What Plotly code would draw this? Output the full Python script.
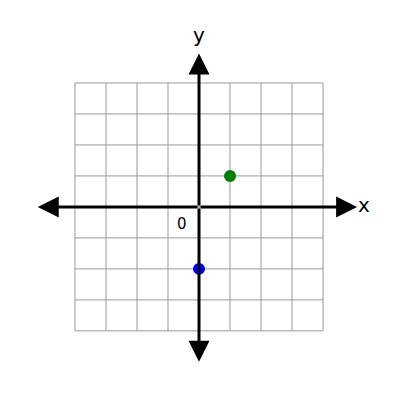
import plotly.graph_objects as go

grid_ticks = [-4, -3, -2, -1, 0, 1, 2, 3, 4]
points_x = [1, 0]
points_y = [1, -2]
point_colors = ["green", "blue"]
axis_ends = {"x": (-5.2, 5.1), "y": (-5.0, 4.95)}

fig = go.Figure()

# grid lines
for t in grid_ticks:
    fig.add_trace(go.Scatter(x=[t, t], y=[-4, 4], mode="lines",
                             line=dict(color="#999", width=1), hoverinfo="skip"))
    fig.add_trace(go.Scatter(x=[-4, 4], y=[t, t], mode="lines",
                             line=dict(color="#999", width=1), hoverinfo="skip"))

# axes with arrowheads at both ends
xa, xb = axis_ends["x"]
ya, yb = axis_ends["y"]
for end in (xa, xb):
    fig.add_annotation(x=end, y=0, ax=0, ay=0, xref="x", yref="y", axref="x", ayref="y",
                       showarrow=True, arrowhead=2, arrowsize=1.4, arrowwidth=3,
                       arrowcolor="black", text="")
for end in (ya, yb):
    fig.add_annotation(x=0, y=end, ax=0, ay=0, xref="x", yref="y", axref="x", ayref="y",
                       showarrow=True, arrowhead=2, arrowsize=1.4, arrowwidth=3,
                       arrowcolor="black", text="")

fig.add_trace(go.Scatter(x=points_x, y=points_y, mode="markers",
                         marker=dict(color=point_colors, size=12), hoverinfo="skip"))

fig.add_annotation(x=5.05, y=0.05, text="x", showarrow=False, xanchor="left",
                   font=dict(size=20, color="black"))
fig.add_annotation(x=0, y=5.1, text="y", showarrow=False, yanchor="bottom",
                   font=dict(size=20, color="black"))
fig.add_annotation(x=-0.55, y=-0.55, text="0", showarrow=False,
                   font=dict(size=15, color="black"))

fig.update_layout(width=400, height=400, showlegend=False,
                  margin=dict(l=0, r=0, t=0, b=0),
                  plot_bgcolor="white", paper_bgcolor="white",
                  font=dict(family="DejaVu Sans"))
fig.update_xaxes(range=[-6.16, 6.74], visible=False)
fig.update_yaxes(range=[-6.49, 6.42], visible=False)

fig.write_html("out.html")
